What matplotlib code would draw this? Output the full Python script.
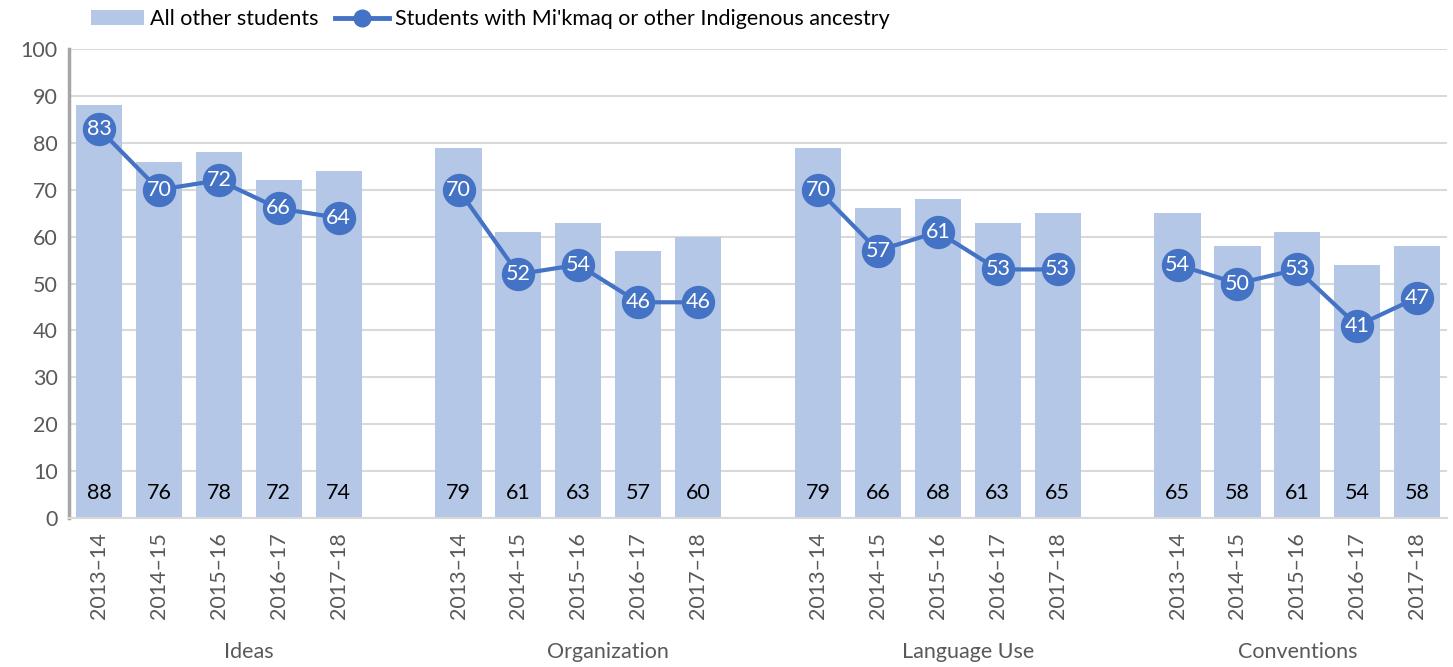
import matplotlib
matplotlib.use("Agg")
import matplotlib.pyplot as plt
import numpy as np
from matplotlib.lines import Line2D
from matplotlib.patches import Patch
import matplotlib.transforms as mtransforms

plt.rcParams['font.family'] = ['Lato', 'DejaVu Sans']

groups = ["Ideas", "Organization", "Language Use", "Conventions"]
years = ["2013–14", "2014–15", "2015–16", "2016–17", "2017–18"]
all_other = [
    [88, 76, 78, 72, 74],
    [79, 61, 63, 57, 60],
    [79, 66, 68, 63, 65],
    [65, 58, 61, 54, 58],
]
indigenous = [
    [83, 70, 72, 66, 64],
    [70, 52, 54, 46, 46],
    [70, 57, 61, 53, 53],
    [54, 50, 53, 41, 47],
]

bar_color = "#B4C7E7"
line_color = "#4472C4"
gray = "#595959"
fs = 15.5

fig = plt.figure(figsize=(14.53, 6.67), dpi=100)
ax = fig.add_axes([0.0475, 0.2234, 0.9485, 0.7031])

ng = len(groups)
nslots = ng * (len(years) + 1) - 1
ticks, ticklabels = [], []
trans = mtransforms.blended_transform_factory(ax.transData, fig.transFigure)
for g, name in enumerate(groups):
    xs = np.arange(len(years)) + g * (len(years) + 1)
    ax.bar(xs, all_other[g], width=0.77, color=bar_color, zorder=2)
    for x, v in zip(xs, all_other[g]):
        ax.text(x, 5.3, str(v), ha="center", va="center", fontsize=fs, color="black", zorder=5)
    ax.plot(xs, indigenous[g], color=line_color, lw=3, marker="o", ms=23, zorder=3)
    for x, v in zip(xs, indigenous[g]):
        ax.text(x, v, str(v), ha="center", va="center", fontsize=fs, color="white", zorder=6)
    ticks.extend(xs)
    ticklabels.extend(years)
    start = xs[0] - 0.5
    end = xs[-1] + 0.5 + (1 if g < ng - 1 else 0)
    ax.text((start + end) / 2, 1 - 652 / 667, name, ha="center", va="center", fontsize=fs,
            color=gray, transform=trans)

ax.set_xlim(-0.5, nslots - 0.5)
ax.set_ylim(0, 100)
ax.set_yticks(range(0, 101, 10))
ax.set_xticks(ticks)
ax.set_xticklabels(ticklabels, rotation=90, fontsize=fs, color=gray)
ax.tick_params(axis="both", length=0, labelsize=fs, labelcolor=gray)
ax.tick_params(axis="x", pad=10)
ax.tick_params(axis="y", pad=8)
ax.grid(axis="y", color="#D9D9D9", lw=1.5, zorder=0)
ax.set_axisbelow(True)
for s in ["top", "right"]:
    ax.spines[s].set_visible(False)
ax.spines["left"].set_color("#A6A6A6")
ax.spines["left"].set_linewidth(2.5)
ax.spines["bottom"].set_color("#D9D9D9")
ax.spines["bottom"].set_linewidth(1.5)

handles = [Patch(facecolor=bar_color, edgecolor="none"),
           Line2D([0], [0], color=line_color, lw=3.5, marker="o", ms=12)]
labels = ["All other students", "Students with Mi'kmaq or other Indigenous ancestry"]
fig.legend(handles, labels, loc="upper left", bbox_to_anchor=(0.049, 1.015), ncol=2,
           frameon=False, fontsize=fs, handlelength=2.5, handletextpad=0.25,
           columnspacing=0.8)

fig.savefig("out.png", dpi=100)
